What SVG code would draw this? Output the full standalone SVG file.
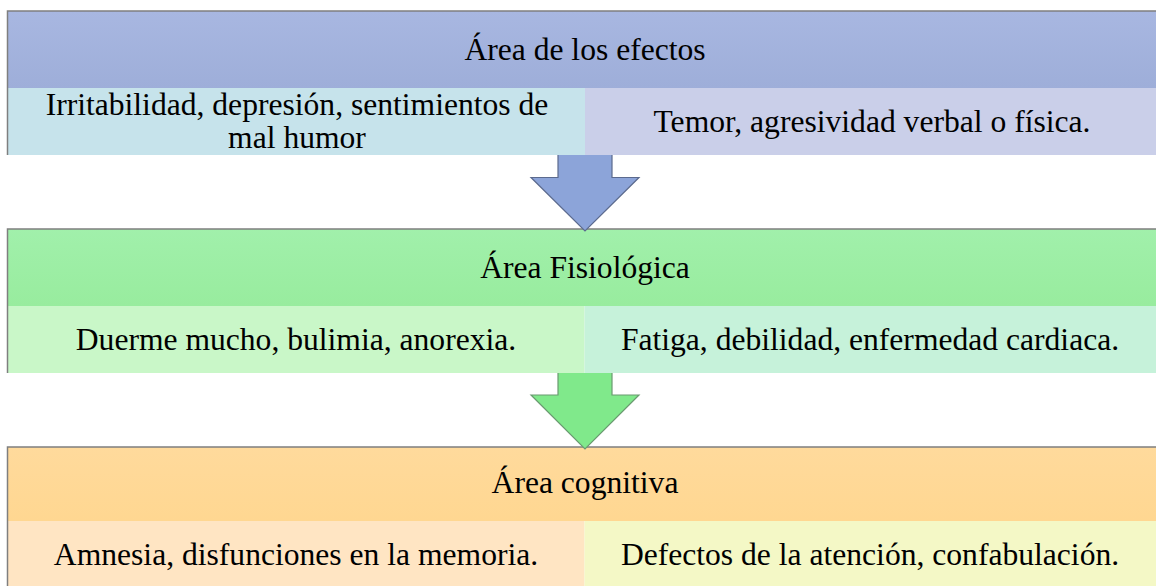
<svg xmlns="http://www.w3.org/2000/svg" width="1156" height="586" viewBox="0 0 1156 586">
<defs>
<linearGradient id="gBlue" x1="0" y1="0" x2="0" y2="1"><stop offset="0" stop-color="#a8b7e1"/><stop offset="1" stop-color="#9eaed9"/></linearGradient>
<linearGradient id="gGreen" x1="0" y1="0" x2="0" y2="1"><stop offset="0" stop-color="#a1f0ab"/><stop offset="1" stop-color="#98ec9e"/></linearGradient>
<linearGradient id="gOrange" x1="0" y1="0" x2="0" y2="1"><stop offset="0" stop-color="#ffda9c"/><stop offset="1" stop-color="#ffd791"/></linearGradient>
</defs>
<style>
.edge{stroke:#7f7f7f;stroke-width:1.5;fill:none}
.arrowline{stroke-width:1.2;fill:none;stroke-linejoin:miter}
</style>
<rect width="1156" height="586" fill="#ffffff"/>

<g id="area-efectos">
<rect x="7.5" y="11" width="1148.5" height="77" fill="url(#gBlue)"/>
<rect x="7.5" y="88" width="577.5" height="67" fill="#c6e3eb"/>
<rect x="585" y="88" width="571" height="67" fill="#cacfe9"/>
<path class="edge" d="M7.5,155 V11 H1156"/>
<g font-family="Liberation Serif" font-size="31.6" text-anchor="middle" fill="#000">
<text x="585" y="60">Área de los efectos</text>
<text x="297" y="115">Irritabilidad, depresión, sentimientos de</text>
<text x="297" y="148">mal humor</text>
<text x="872" y="132">Temor, agresividad verbal o física.</text>
</g>
</g>

<g id="area-fisiologica">
<rect x="7.5" y="229" width="1148.5" height="77" fill="url(#gGreen)"/>
<rect x="7.5" y="306" width="577" height="67" fill="#c9f7c8"/>
<rect x="584.5" y="306" width="571.5" height="67" fill="#c6f2da"/>
<path class="edge" d="M7.5,373 V229 H1156"/>
<g font-family="Liberation Serif" font-size="31.6" text-anchor="middle" fill="#000">
<text x="585" y="278">Área Fisiológica</text>
<text x="296" y="350">Duerme mucho, bulimia, anorexia.</text>
<text x="870" y="350">Fatiga, debilidad, enfermedad cardiaca.</text>
</g>
</g>

<g id="area-cognitiva">
<rect x="7.5" y="447" width="1148.5" height="74" fill="url(#gOrange)"/>
<rect x="7.5" y="521" width="577" height="65" fill="#ffe5c3"/>
<rect x="584.5" y="521" width="571.5" height="65" fill="#f4f8c6"/>
<path class="edge" d="M7.5,586 V447 H1156"/>
<g font-family="Liberation Serif" font-size="31.6" text-anchor="middle" fill="#000">
<text x="585" y="493">Área cognitiva</text>
<text x="296" y="565">Amnesia, disfunciones en la memoria.</text>
<text x="870" y="565">Defectos de la atención, confabulación.</text>
</g>
</g>

<g id="connectors">
<polygon points="558,155 612,155 612,177.5 639,177.5 585,231 531,177.5 558,177.5" fill="#8ca4d9"/>
<path class="arrowline" stroke="#5b6a8e" d="M612,155 V177.5 H639 L585,231 L531,177.5 H558 V155"/>
<polygon points="558,373 612,373 612,395 639,395 585,449 531,395 558,395" fill="#80e98b"/>
<path class="arrowline" stroke="#6a9a70" d="M612,373 V395 H639 L585,449 L531,395 H558 V373"/>
</g>
</svg>
